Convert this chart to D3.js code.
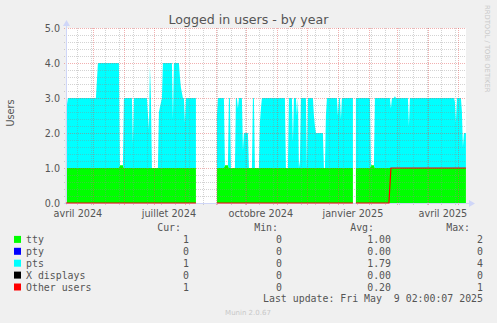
<!DOCTYPE html>
<html>
<head>
<meta charset="utf-8">
<script src="https://cdn.jsdelivr.net/npm/d3@7"></script>
<style>
body{margin:0;background:#f0f0f0;}
svg{display:block;}
text{font-family:"DejaVu Sans",sans-serif;fill:#555;}
.mono{font-family:"DejaVu Sans Mono",monospace;font-size:9.9px;}
</style>
</head>
<body>
<svg id="chart" width="497" height="323"></svg>
<script>
// chart data
const days = ["2024-04-04","2024-04-06","2024-05-04","2024-05-06","2024-05-27","2024-05-28","2024-05-31","2024-06-01","2024-06-09","2024-06-10",
  "2024-06-11","2024-06-24","2024-06-26","2024-06-27","2024-06-28","2024-06-29","2024-07-05","2024-07-06","2024-07-09","2024-07-10",
  "2024-07-19","2024-07-20","2024-07-21","2024-07-26","2024-07-27","2024-07-28","2024-07-30","2024-07-31","2024-08-01","2024-08-02",
  "2024-08-12","2024-08-13","2024-09-01","2024-09-02","2024-09-03","2024-09-09","2024-09-10","2024-09-13","2024-09-14","2024-09-15",
  "2024-09-16","2024-09-20","2024-09-21","2024-09-22","2024-09-23","2024-09-24","2024-09-27","2024-09-28","2024-09-29","2024-10-03",
  "2024-10-04","2024-10-07","2024-10-08","2024-10-09","2024-10-10","2024-10-14","2024-10-15","2024-10-16","2024-10-17","2024-11-09",
  "2024-11-10","2024-11-12","2024-11-13","2024-11-16","2024-11-17","2024-11-18","2024-11-20","2024-11-21","2024-11-22","2024-11-23",
  "2024-11-24","2024-11-25","2024-11-30","2024-12-01","2024-12-02","2024-12-07","2024-12-08","2024-12-09","2024-12-10","2024-12-17",
  "2024-12-18","2024-12-19","2024-12-20","2024-12-21","2024-12-31","2025-01-01","2025-01-02","2025-01-03","2025-01-04","2025-01-05",
  "2025-01-16","2025-01-17","2025-01-18","2025-01-19","2025-02-02","2025-02-03","2025-02-06","2025-02-07","2025-02-21","2025-02-22",
  "2025-02-23","2025-02-24","2025-02-26","2025-02-27","2025-02-28","2025-03-12","2025-03-13","2025-03-14","2025-04-27","2025-04-28",
  "2025-04-29","2025-04-30","2025-05-04","2025-05-05","2025-05-06","2025-05-07","2025-05-09"];

const ttyUsers = [1,1,1,1,1,1.08,1.08,1,1,1,
  1,1,1,1,1,1,1,1,1,1,
  1,1,1,1,1,1,1,1,1,1,
  1,null,null,1,1,1,1.08,1.08,1,1,
  1,1,1,1,1,1,1,1,1,1,
  1,1,1,1,1,1,1,1,1,1,
  1,1,1,1,1,1,1,1,1,1,
  1,1,1,1,1,1,1,1,1,1,
  1,1,1,1,1,1,1,1,1,1,
  1,null,null,1,1,1.08,1.08,1,1,1,
  1,1,1,1,1,1,1,1,1,1,
  1,1,1,1,1,1,1];

const ptsUsers = [1.6,2,2,3,3,0,0,2,2,0.7,
  2,2,1.1,2.9,2,0,0,1.6,2,3,
  3,1.4,3,3,2.6,2.3,2,2,1.3,2,
  2,null,null,1.5,2,2,0,0,2,2,
  0,0,2,2,1.7,2,2,0.5,1,1,
  0,0,2,2,0,0,1.3,1.7,2,2,
  0,0,2,2,0.75,2,2,1.5,2,0,
  0.2,2,2,0,2,2,1.5,1.2,1,1,
  0,0,1.5,2,2,1.5,2,2,1.4,2,
  2,null,null,2,2,0,0,2,2,2,
  1.7,2,2,2.05,2,2,1.2,2,2,1.9,
  1.3,2,2,1.6,0.6,1,1];

const otherUsers = [0,0,0,0,0,0,0,0,0,0,
  0,0,0,0,0,0,0,0,0,0,
  0,0,0,0,0,0,0,0,0,0,
  0,null,null,0,0,0,0,0,0,0,
  0,0,0,0,0,0,0,0,0,0,
  0,0,0,0,0,0,0,0,0,0,
  0,0,0,0,0,0,0,0,0,0,
  0,0,0,0,0,0,0,0,0,0,
  0,0,0,0,0,0,0,0,0,0,
  0,null,null,0,0,0,0,0,0,0.5,
  1,1,1,1,1,1,1,1,1,1,
  1,1,1,1,1,1,1];

const yTicks = [0, 1, 2, 3, 4, 5];
const xLabelMonths = ["2024-04-01","2024-07-01","2024-10-01","2025-01-01","2025-04-01"];
const xLabels = ["avril 2024","juillet 2024","octobre 2024","janvier 2025","avril 2025"];

const legendNames = ["tty","pty","pts","X displays","Other users"];
const legendColors = ["#00ff00","#0000ff","#00ffff","#000000","#ff0000"];
const legendCur = ["1","0","1","0","1"];
const legendMin = ["0","0","0","0","0"];
const legendAvg = ["1.00","0.00","1.79","0.00","0.20"];
const legendMax = ["2","0","4","0","1"];

const width = 497;
const height = 323;
const plot = {left: 66, right: 466, top: 28, bottom: 203};

const svg = d3.select("#chart");
const parseDay = d3.timeParse("%Y-%m-%d");

const rows = days.map((d, i) => ({
  t: parseDay(d), tty: ttyUsers[i], pts: ptsUsers[i], other: otherUsers[i]
}));

const x = d3.scaleTime()
  .domain([new Date(2024, 3, 4, 2), new Date(2025, 4, 9, 2)])
  .range([plot.left, plot.right]);
const y = d3.scaleLinear().domain([0, 5]).range([plot.bottom, plot.top]);

// white canvas
svg.append("rect")
  .attr("x", plot.left).attr("y", plot.top)
  .attr("width", plot.right - plot.left).attr("height", plot.bottom - plot.top)
  .attr("fill", "#fff");

// stacked areas: tty then pts on top of it
const ttyArea = d3.area()
  .defined(d => d.tty != null)
  .x(d => x(d.t)).y0(y(0)).y1(d => y(d.tty));
const ptsArea = d3.area()
  .defined(d => d.pts != null)
  .x(d => x(d.t)).y0(d => y(d.tty)).y1(d => y(d.tty + d.pts));

svg.append("path").datum(rows).attr("d", ttyArea).attr("fill", legendColors[0]);
svg.append("path").datum(rows).attr("d", ptsArea).attr("fill", legendColors[2]);

// grid on top of the data, dotted like rrdtool
const minorColor = "rgba(140,140,140,0.38)";
const majorColor = "rgba(225,80,80,0.45)";
const grid = svg.append("g");
const minorY = d3.range(0, 5.01, 0.2).filter(v => Math.abs(v - Math.round(v)) > 0.01);
grid.selectAll(".hminor").data(minorY).enter().append("line")
  .attr("x1", plot.left - 2).attr("x2", plot.right)
  .attr("y1", d => Math.round(y(d)) + 0.5).attr("y2", d => Math.round(y(d)) + 0.5)
  .attr("stroke", minorColor).attr("stroke-dasharray", "1,1");

const minorX = d3.timeMonday.range(x.domain()[0], x.domain()[1]).filter((d, i) => i % 2 === 1);
grid.selectAll(".vminor").data(minorX).enter().append("line")
  .attr("y1", plot.top).attr("y2", plot.bottom + 2)
  .attr("x1", d => Math.round(x(d)) + 0.5).attr("x2", d => Math.round(x(d)) + 0.5)
  .attr("stroke", minorColor).attr("stroke-dasharray", "1,1");

grid.selectAll(".hmajor").data(yTicks).enter().append("line")
  .attr("x1", plot.left - 2).attr("x2", plot.right)
  .attr("y1", d => Math.round(y(d)) + 0.5).attr("y2", d => Math.round(y(d)) + 0.5)
  .attr("stroke", majorColor).attr("stroke-dasharray", "1,1");

const months = d3.timeMonth.range(x.domain()[0], x.domain()[1]);
grid.selectAll(".vmajor").data(months).enter().append("line")
  .attr("y1", plot.top).attr("y2", plot.bottom + 2)
  .attr("x1", d => Math.round(x(d)) + 0.5).attr("x2", d => Math.round(x(d)) + 0.5)
  .attr("stroke", majorColor).attr("stroke-dasharray", "1,1");

// axes with arrows
const axisColor = "#cfd6f8";
svg.append("line")
  .attr("x1", plot.left + 0.5).attr("x2", plot.left + 0.5)
  .attr("y1", plot.bottom + 2).attr("y2", plot.top - 4)
  .attr("stroke", axisColor);
svg.append("line")
  .attr("x1", plot.left - 2).attr("x2", plot.right + 4)
  .attr("y1", plot.bottom + 0.5).attr("y2", plot.bottom + 0.5)
  .attr("stroke", axisColor);
svg.append("path")
  .attr("d", `M${plot.left - 3},${plot.top - 2} L${plot.left + 4},${plot.top - 2} L${plot.left + 0.5},${plot.top - 8} Z`)
  .attr("fill", axisColor);
svg.append("path")
  .attr("d", `M${plot.right + 3},${plot.bottom - 3} L${plot.right + 3},${plot.bottom + 4} L${plot.right + 9},${plot.bottom + 0.5} Z`)
  .attr("fill", axisColor);

// other users line (LINE1)
const otherLine = d3.line()
  .defined(d => d.other != null)
  .x(d => x(d.t)).y(d => y(d.other));
svg.append("path").datum(rows).attr("d", otherLine)
  .attr("fill", "none").attr("stroke", legendColors[4]).attr("stroke-width", 1.2);

// y tick labels
svg.selectAll(".ylab").data(yTicks).enter().append("text")
  .attr("x", plot.left - 6).attr("y", d => y(d) + 3.5)
  .attr("text-anchor", "end").attr("font-size", "9.6px")
  .text(d => d.toFixed(1));

// x labels, centred in the middle of their month
svg.selectAll(".xlab").data(xLabelMonths).enter().append("text")
  .attr("x", d => x(d3.timeDay.offset(parseDay(d), 15)))
  .attr("y", 216.5)
  .attr("text-anchor", "middle").attr("font-size", "9.7px")
  .text((d, i) => xLabels[i]);

// title, unit label, watermark
svg.append("text").attr("x", 248.5).attr("y", 24)
  .attr("text-anchor", "middle").attr("font-size", "12.6px")
  .text("Logged in users - by year");
svg.append("text")
  .attr("transform", "translate(14,113) rotate(-90)")
  .attr("text-anchor", "middle").attr("font-size", "9.7px")
  .text("Users");
svg.append("text")
  .attr("transform", "translate(485,5) rotate(90)")
  .attr("font-size", "6.8px").style("fill", "#c8c8c8")
  .text("RRDTOOL / TOBI OETIKER");

// legend
const legY = 231;
const rowH = 11.9;
const cols = [
  {head: "Cur:", hx: 181, vx: 189, vals: legendCur},
  {head: "Min:", hx: 278, vx: 282, vals: legendMin},
  {head: "Avg:", hx: 374, vx: 391, vals: legendAvg},
  {head: "Max:", hx: 470, vx: 483, vals: legendMax}
];
cols.forEach(c => {
  svg.append("text").attr("class", "mono")
    .attr("x", c.hx).attr("y", legY).attr("text-anchor", "end").text(c.head);
});
const leg = svg.selectAll(".leg").data(legendNames).enter().append("g")
  .attr("transform", (d, i) => `translate(0,${legY + rowH * (i + 1)})`);
leg.append("rect").attr("x", 14).attr("y", -7).attr("width", 7).attr("height", 7)
  .attr("fill", (d, i) => legendColors[i]);
leg.append("text").attr("class", "mono").attr("x", 26).attr("y", 0).text(d => d);
cols.forEach(c => {
  leg.append("text").attr("class", "mono")
    .attr("x", c.vx).attr("y", 0).attr("text-anchor", "end")
    .text((d, i) => c.vals[i]);
});

svg.append("text").attr("class", "mono")
  .attr("x", 483).attr("y", legY + rowH * 6).attr("text-anchor", "end")
  .style("white-space", "pre")
  .text("Last update: Fri May  9 02:00:07 2025");
svg.append("text")
  .attr("x", 248).attr("y", 315)
  .attr("text-anchor", "middle").attr("font-size", "7px").style("fill", "#c8c8c8")
  .text("Munin 2.0.67");
</script>
</body>
</html>
